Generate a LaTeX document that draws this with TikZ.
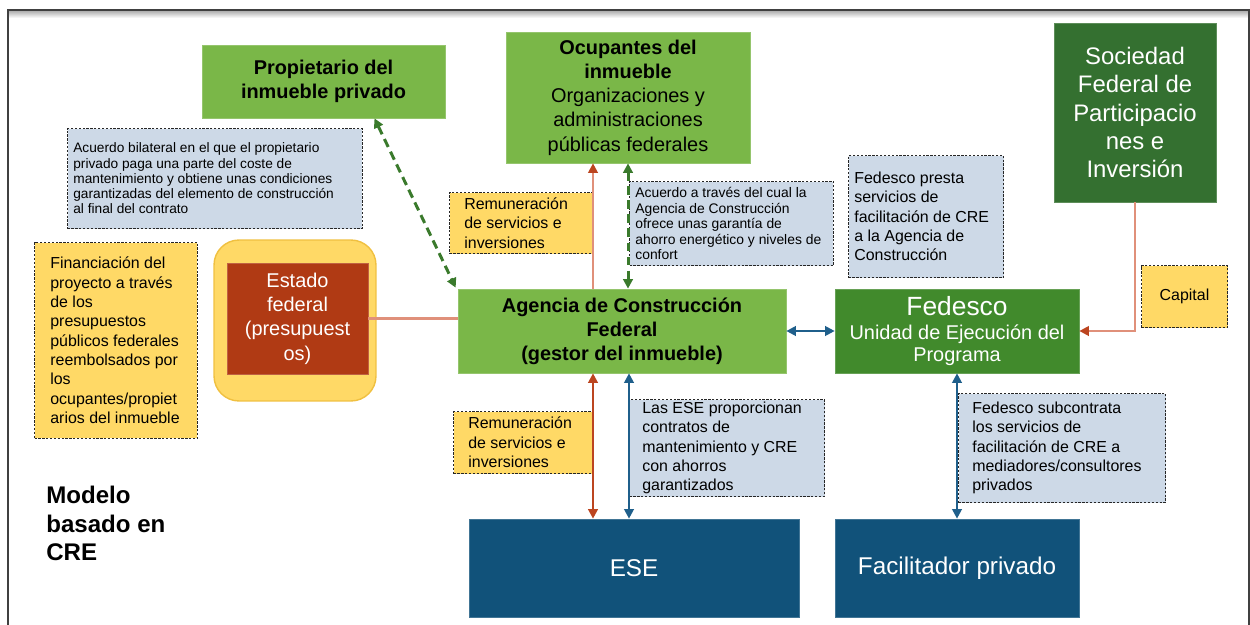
\documentclass[tikz,border=0pt]{standalone}
\usepackage{fontspec}
\setmainfont{Liberation Sans}
\usetikzlibrary{arrows.meta,calc}
\definecolor{lgreen}{HTML}{7AB748}
\definecolor{mgreen}{HTML}{418A2C}
\definecolor{dgreen}{HTML}{347030}
\definecolor{ered}{HTML}{B03A14}
\definecolor{nyellow}{HTML}{FFD966}
\definecolor{nblue}{HTML}{CDD9E7}
\definecolor{dblue}{HTML}{11527A}
\definecolor{ablue}{HTML}{1F5F8B}
\definecolor{salmon}{HTML}{E0907A}
\definecolor{dred}{HTML}{BC4520}
\definecolor{agreen}{HTML}{3A7A2C}
\definecolor{glowedge}{HTML}{F0C040}
\tikzset{
  fbox/.style={draw=#1!80!white, fill=#1, line width=0.4pt, inner sep=0pt, align=center},
  note/.style={draw=black!85, dash pattern=on 1.3pt off 0.9pt, line width=0.6pt, inner sep=0pt, anchor=north west},
  ynote/.style={note, fill=nyellow},
  bnote/.style={note, fill=nblue},
  ntxt/.style={inner sep=0pt, align=left, anchor=west, font=\fontsize{9.07}{11}\selectfont},
  stxt/.style={inner sep=0pt, align=left, anchor=west, font=\fontsize{7.8}{8.7}\selectfont},
  ftw/.style={font=\fontsize{11.34}{13.8}\selectfont},
  ftwb/.style={font=\fontsize{11.34}{13.6}\selectfont\bfseries},
  blueln/.style={draw=ablue, line width=1.2pt, <->},
  redln/.style={draw=dred, line width=1.3pt, <->},
  salln/.style={draw=salmon, line width=1.2pt},
  gdash/.style={draw=agreen, line width=1.7pt, dash pattern=on 5pt off 3pt, <->},
  redtip/.style={-{Triangle[length=5.4pt,width=5.4pt,color=dred]}}
}
\begin{document}
\begin{tikzpicture}[x=0.02cm,y=-0.02cm, >={Triangle[length=5.4pt,width=5.4pt]}]
\useasboundingbox (0,0) rectangle (1250,625);
% frame
\shade[top color=black!35, bottom color=white] (9,10) rectangle (1248,18);
\draw[black!75, line width=0.9pt] (8,640) -- (8,10) -- (1249,10) -- (1249,640);

% main boxes
\node[fbox=lgreen, minimum width=4.86cm, minimum height=1.46cm, ftwb] (prop) at (323.5,81.5) {Propietario del\\inmueble privado};
\node[fbox=lgreen, minimum width=4.88cm, minimum height=2.62cm, ftw] (ocup) at (628,97.5) {\textbf{Ocupantes del}\\\textbf{inmueble}\\Organizaciones y\\administraciones\\públicas federales};
\node[fbox=dgreen, text=white, minimum width=3.24cm, minimum height=3.58cm, font=\fontsize{13.6}{16}\selectfont] (soc) at (1135,112.5) {Sociedad\\Federal de\\Participacio\\nes e\\Inversión};
\node[fbox=lgreen, minimum width=6.56cm, minimum height=1.68cm, ftwb] (agen) at (622,331) {Agencia de Construcción\\Federal\\(gestor del inmueble)};
\node[fbox=mgreen, text=white, minimum width=4.88cm, minimum height=1.68cm, font=\fontsize{11.34}{12.5}\selectfont] (fed) at (957,331) {{\fontsize{15}{17}\selectfont Fedesco}\\[1pt]Unidad de Ejecución del\\Programa};
\node[fbox=dblue, text=white, minimum width=6.6cm, minimum height=1.96cm, font=\fontsize{13.8}{16}\selectfont] (ese) at (634,568) {ESE};
\node[fbox=dblue, text=white, minimum width=4.88cm, minimum height=1.96cm, font=\fontsize{13.8}{16}\selectfont] (fac) at (957,568) {Facilitador privado};

% Estado federal
\node[draw=glowedge, line width=0.8pt, fill=nyellow, rounded corners=0.5cm, minimum width=3.24cm, minimum height=3.22cm] (estout) at (295,320.5) {};
\node[fbox=ered, text=white, minimum width=2.82cm, minimum height=2.22cm, font=\fontsize{11.34}{13.8}\selectfont] (estin) at (297.5,318.5) {Estado\\federal\\(presupuest\\os)};

% notes
\node[bnote, minimum width=5.9cm, minimum height=2cm] (n1) at (67,128) {};
\node[stxt] (n1t) at ([xshift=0.12cm]n1.west) {Acuerdo bilateral en el que el propietario\\privado paga una parte del coste de\\mantenimiento y obtiene unas condiciones\\garantizadas del elemento de construcción\\al final del contrato};

\node[ynote, minimum width=2.88cm, minimum height=1.22cm] (rem1) at (449,192) {};
\node[ntxt] (rem1t) at ([xshift=0.3cm]rem1.west) {Remuneración\\de servicios e\\inversiones};

\node[bnote, minimum width=4.08cm, minimum height=1.68cm] (acu) at (629,181) {};
\node[stxt, font=\fontsize{7.9}{8.8}\selectfont] (acut) at ([xshift=0.12cm]acu.west) {Acuerdo a través del cual la\\Agencia de Construcción\\ofrece unas garantía de\\ahorro energético y niveles de\\confort};

\node[bnote, minimum width=3.1cm, minimum height=2.44cm] (fedp) at (848,155) {};
\node[ntxt] (fedpt) at ([xshift=0.12cm]fedp.west) {Fedesco presta\\servicios de\\facilitación de CRE\\a la Agencia de\\Construcción};

\node[ynote, minimum width=1.72cm, minimum height=1.24cm, font=\fontsize{9.07}{11}\selectfont] (cap) at (1141,265) {Capital};

\node[ynote, minimum width=3.26cm, minimum height=3.92cm] (fin) at (34,242) {};
\node[ntxt] (fint) at ([xshift=0.32cm]fin.west) {Financiación del\\proyecto a través\\de los\\presupuestos\\públicos federales\\reembolsados por\\los\\ocupantes/propiet\\arios del inmueble};

\node[ynote, minimum width=2.8cm, minimum height=1.24cm] (rem2) at (453,411) {};
\node[ntxt] (rem2t) at ([xshift=0.3cm]rem2.west) {Remuneración\\de servicios e\\inversiones};

\node[bnote, minimum width=3.9cm, minimum height=1.94cm] (ese2) at (629,399) {};
\node[ntxt] (ese2t) at ([xshift=0.26cm]ese2.west) {Las ESE proporcionan\\contratos de\\mantenimiento y CRE\\con ahorros\\garantizados};

\node[bnote, minimum width=4.14cm, minimum height=2.18cm] (subc) at (958,393) {};
\node[ntxt] (subct) at ([xshift=0.28cm]subc.west) {Fedesco subcontrata\\los servicios de\\facilitación de CRE a\\mediadores/consultores\\privados};

% title
\node[anchor=north west, inner sep=0pt, align=left, font=\fontsize{13.7}{16.2}\selectfont\bfseries] (modelo) at (46,486) {Modelo\\basado en\\CRE};

% helper x positions
\coordinate (xr) at (593,0);
\coordinate (xb) at (629,0);

% connectors
\draw[salln] (estin.east) -- (estin.east -| agen.west);
\draw[gdash] ([xshift=1.02cm]prop.south) -- ([xshift=-0.04cm,yshift=0.02cm]agen.north west);
\draw[salln, redtip] (agen.north -| xr) -- (ocup.south -| xr);
\draw[gdash] (ocup.south) -- (agen.north -| ocup.south);
\draw[blueln] (agen.east) -- (fed.west);
\draw[salln, redtip] (soc.south) |- (fed.east);
\draw[redln] (agen.south -| xr) -- (ese.north -| xr);
\draw[blueln] (agen.south -| xb) -- (ese.north -| xb);
\draw[blueln] (fed.south) -- (fac.north);
\end{tikzpicture}
\end{document}
